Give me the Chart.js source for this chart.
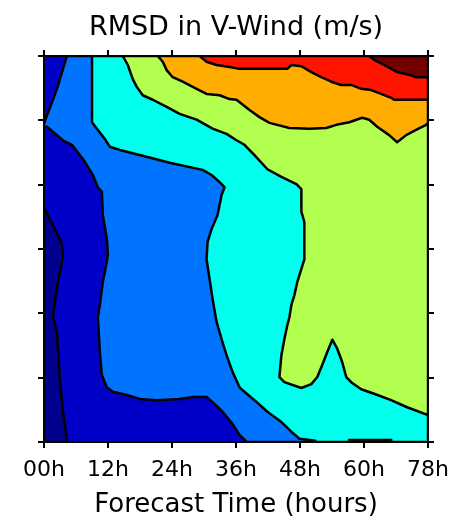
<!DOCTYPE html>
<html>
<head>
<meta charset="utf-8">
<script src="https://cdn.jsdelivr.net/npm/chart.js@4.4.1/dist/chart.umd.min.js"></script>
<style>
html, body { margin: 0; padding: 0; background: #ffffff; }
#wrap { width: 458px; height: 522px; }
</style>
</head>
<body>
<div id="wrap"><canvas id="c" width="458" height="522"></canvas></div>
<script>
// ---------- data (forecast hour, vertical level index) ----------
const xTickValues = [0, 12, 24, 36, 48, 60, 72];
const xTickLabels = ['00h', '12h', '24h', '36h', '48h', '60h', '78h'];
const yTickValues = [0, 1, 2, 3, 4, 5, 6];

// whole domain (lowest band above the minimum)
const regionBase = [[0,0],[72,0],[72,6],[0,6]];
// lowest band (below first contour)
const regionBand0 = [[0,3.65],[1.68,3.37],[3.37,3.08],[3.55,2.95],[3.37,2.80],[2.62,2.49],[2.06,2.18],[1.68,1.94],[2.43,1.71],[2.99,0.98],[3.55,0.47],[4.3,0.04],[4.3,0],[0,0]];
// areas at or above each contour level
const regionLevel2 = [[4.3,6],[3.37,5.75],[2.43,5.49],[1.5,5.28],[0.56,5.08],[0,4.94],[0,4.9],[0.56,4.9],[3.55,4.69],[5.24,4.62],[7.29,4.40],[9.16,4.15],[10.10,3.96],[10.85,3.89],[11.03,3.53],[11.78,3.16],[11.97,2.92],[11.78,2.80],[11.03,2.49],[10.47,2.13],[10.10,1.94],[10.47,1.40],[10.85,1.04],[11.78,0.85],[12.9,0.78],[15.52,0.73],[17.95,0.67],[21.13,0.65],[25.43,0.67],[27.87,0.70],[30.48,0.70],[31.61,0.62],[33.48,0.47],[35.35,0.28],[36.66,0.11],[37.97,0],[72,0],[72,6]];
const regionLevel3 = [[9.0,6],[9.0,4.97],[10.10,4.85],[11.41,4.71],[12.34,4.59],[14.21,4.54],[17.95,4.46],[23.56,4.34],[29.74,4.23],[31.42,4.15],[32.92,4.04],[33.85,3.96],[33.29,3.84],[32.54,3.53],[31.42,3.31],[30.67,3.11],[30.48,2.84],[31.05,2.53],[31.61,2.22],[32.35,1.87],[33.29,1.60],[34.22,1.35],[35.35,1.09],[36.66,0.85],[37.03,0.82],[39.46,0.65],[41.89,0.47],[44.51,0.31],[46.38,0.16],[47.88,0.05],[50.9,0.02],[50.9,0],[57.2,0],[57.2,0.03],[65.1,0.03],[65.1,0],[72,0],[72,6]];
const regionLevel4 = [[14.77,6],[15.71,5.86],[16.64,5.64],[17.39,5.52],[18.51,5.39],[20.39,5.32],[23.0,5.21],[25.43,5.10],[28.61,5.01],[31.61,4.87],[34.22,4.79],[36.09,4.69],[37.59,4.62],[39.46,4.46],[41.89,4.24],[44.51,4.12],[47.32,4.01],[48.25,3.93],[48.25,3.58],[48.81,3.42],[48.81,2.84],[48.25,2.69],[47.5,2.49],[46.94,2.28],[46.38,2.13],[46.01,1.94],[45.63,1.82],[45.07,1.60],[44.51,1.35],[44.13,1.01],[45.07,0.93],[48.25,0.84],[50.12,0.90],[51.24,1.01],[52.18,1.20],[53.11,1.40],[54.05,1.59],[54.98,1.45],[55.92,1.24],[56.67,1.01],[57.6,0.93],[59.47,0.82],[61.9,0.75],[65.08,0.65],[68.08,0.54],[72,0.42],[72,6]];
const regionLevel5 = [[21.32,6],[22.26,5.91],[23.0,5.78],[24.13,5.67],[26.0,5.60],[28.61,5.49],[30.48,5.41],[32.92,5.39],[34.79,5.33],[36.09,5.32],[38.53,5.16],[40.4,5.05],[42.27,4.96],[46.01,4.88],[49.75,4.87],[52.93,4.88],[54.8,4.93],[57.23,4.97],[59.66,5.04],[60.97,5.01],[62.47,4.90],[64.71,4.77],[66.21,4.66],[67.89,4.77],[69.76,4.85],[71.63,4.93],[72,4.96],[72,6]];
const regionLevel6 = [[29.17,6],[30.48,5.91],[32.35,5.86],[34.79,5.83],[36.66,5.80],[45.63,5.80],[46.38,5.86],[48.25,5.84],[50.12,5.75],[51.99,5.67],[53.86,5.60],[55.73,5.55],[57.6,5.55],[59.47,5.49],[61.34,5.47],[63.21,5.41],[65.08,5.35],[65.64,5.32],[72,5.32],[72,6]];
const regionLevel7 = [[60.97,6],[61.9,5.94],[63.77,5.86],[66.21,5.75],[68.82,5.70],[69.76,5.67],[72,5.67],[72,6]];

// ---------- styles ----------
const regionList = [regionBase, regionBand0, regionLevel2, regionLevel3, regionLevel4, regionLevel5, regionLevel6, regionLevel7];
const bandColors = ['#0000c8', '#00008c', '#0073ff', '#00ffec', '#b2ff50', '#ffad00', '#ff1400', '#720000'];

Chart.defaults.font.family = "'DejaVu Sans', sans-serif";
Chart.defaults.color = '#000';

function ring(pts) {
  const d = pts.map(p => ({x: p[0], y: p[1]}));
  d.push({x: pts[0][0], y: pts[0][1]});
  return d;
}

const datasets = regionList.map((pts, i) => ({
  data: ring(pts),
  backgroundColor: bandColors[i],
  borderColor: i === 0 ? 'rgba(0,0,0,0)' : '#000',
  borderWidth: 2.5,
  fill: 'shape',
  pointRadius: 0,
  pointHoverRadius: 0,
  pointHitRadius: 0,
  tension: 0,
  borderJoinStyle: 'round',
  borderCapStyle: 'round',
  clip: 0,
  order: 100 - i
}));

const tickGrid = {display: true, drawOnChartArea: false, drawTicks: true, tickLength: 6, color: '#000', lineWidth: 2};
const frameBorder = {display: true, color: '#000', width: 2, z: 1};

new Chart(document.getElementById('c'), {
  type: 'line',
  data: {datasets},
  options: {
    responsive: false,
    animation: false,
    events: [],
    layout: {padding: 0},
    plugins: {
      legend: {display: false},
      tooltip: {enabled: false},
      title: {
        display: true,
        text: 'RMSD in V-Wind (m/s)',
        color: '#000',
        font: {size: 27, weight: 'normal'},
        padding: {top: 12, bottom: 0},
        fullSize: false
      }
    },
    scales: {
      x: {
        type: 'linear', position: 'bottom', min: 0, max: 72,
        afterBuildTicks: s => { s.ticks = xTickValues.map(v => ({value: v})); },
        afterFit: s => { s.height = 80; },
        ticks: {font: {size: 22}, color: '#000', padding: 9, autoSkip: false, maxRotation: 0, minRotation: 0,
                callback: (v, i) => xTickLabels[i]},
        grid: tickGrid, border: frameBorder,
        title: {display: true, text: 'Forecast Time (hours)', color: '#000', font: {size: 26}, padding: {top: 0, bottom: 1.5}}
      },
      x2: {
        type: 'linear', axis: 'x', position: 'top', min: 0, max: 72,
        afterBuildTicks: s => { s.ticks = xTickValues.map(v => ({value: v})); },
        afterFit: s => { s.height = 11.6; },
        ticks: {display: false},
        grid: tickGrid, border: frameBorder
      },
      y: {
        type: 'linear', position: 'left', min: 0, max: 6,
        afterBuildTicks: s => { s.ticks = yTickValues.map(v => ({value: v})); },
        afterFit: s => { s.width = 44; },
        ticks: {display: false},
        grid: tickGrid, border: frameBorder
      },
      y2: {
        type: 'linear', axis: 'y', position: 'right', min: 0, max: 6,
        afterBuildTicks: s => { s.ticks = yTickValues.map(v => ({value: v})); },
        afterFit: s => { s.width = 29; },
        ticks: {display: false},
        grid: tickGrid, border: frameBorder
      }
    }
  }
});
</script>
</body>
</html>
